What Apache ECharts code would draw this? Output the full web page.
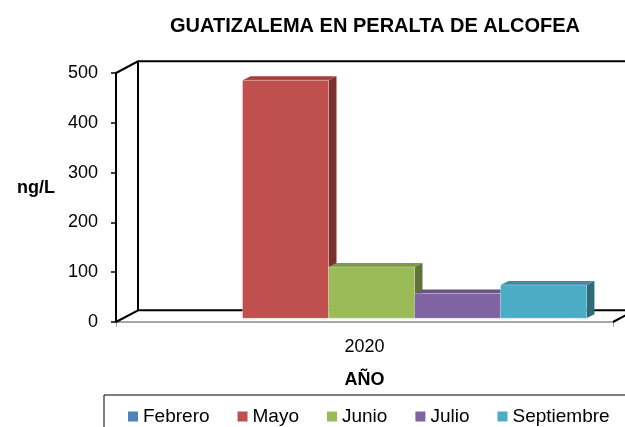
<!DOCTYPE html>
<html>
<head>
<meta charset="utf-8">
<script src="https://cdn.jsdelivr.net/npm/echarts@6/dist/echarts.min.js"></script>
<style>
  html, body { margin: 0; padding: 0; background: #fff; }
  #main { width: 625px; height: 427px; }
</style>
</head>
<body>
<div id="main"></div>
<script>
// Data
const years = ['2020'];
const months = ['Febrero', 'Mayo', 'Junio', 'Julio', 'Septiembre'];
const febrero = [0];
const mayo = [478];
const junio = [103];
const julio = [50];
const septiembre = [67];
const colors = ['#4F81BD', '#C0504D', '#9BBB59', '#8064A2', '#4BACC6'];

const FONT = '"Liberation Sans", Arial, sans-serif';
let myChart = echarts.init(document.getElementById('main'));

// Darken a hex colour by a factor
function shade(hex, k) {
    let n = parseInt(hex.slice(1), 16);
    let r = Math.round(((n >> 16) & 255) * (1 - k));
    let g = Math.round(((n >> 8) & 255) * (1 - k));
    let b = Math.round((n & 255) * (1 - k));
    return 'rgb(' + r + ',' + g + ',' + b + ')';
}

// Fake 3D box for one month's bar
function barItem(i) {
    return function (params, api) {
        let v = api.value(1);
        if (!v) return null;
        let catW = api.size([1, 0])[0];
        let w = catW * 0.173;
        let c = api.coord([api.value(0), 0]);
        let t = api.coord([api.value(0), v]);
        let x = c[0] - 2.5 * w + i * w + 7;
        let yb = c[1] - 3.7, yt = t[1] - 3.7;
        let dx = 8, dy = -4;
        let col = colors[i];
        return {
            type: 'group',
            children: [
                { type: 'polygon', shape: { points: [[x + w, yt], [x + w + dx, yt + dy], [x + w + dx, yb + dy], [x + w, yb]] },
                  style: { fill: shade(col, 0.38) } },
                { type: 'polygon', shape: { points: [[x, yt], [x + dx, yt + dy], [x + w + dx, yt + dy], [x + w, yt]] },
                  style: { fill: shade(col, 0.18) } },
                { type: 'rect', shape: { x: x, y: yt, width: w, height: yb - yt },
                  style: { fill: col, stroke: 'rgba(255,255,255,0.5)', lineWidth: 0.6 } }
            ]
        };
    };
}

// Back wall and floor edges of the 3D frame
function frameItem(params, api) {
    let cs = params.coordSys;
    let x0 = cs.x, y0 = cs.y, x1 = cs.x + cs.width, y1 = cs.y + cs.height;
    let dx = 22, dy = -11.7;
    let ls = { stroke: '#000', lineWidth: 2, fill: null };
    return {
        type: 'group',
        children: [
            { type: 'polyline', shape: { points: [[x0, y0], [x0 + dx, y0 + dy], [x1 + dx, y0 + dy]] }, style: ls },
            { type: 'polyline', shape: { points: [[x0 + dx, y0 + dy], [x0 + dx, y1 + dy], [x1 + dx, y1 + dy]] }, style: ls },
            { type: 'line', shape: { x1: x0, y1: y1, x2: x0 + dx, y2: y1 + dy }, style: ls },
            { type: 'line', shape: { x1: x1, y1: y1, x2: x1 + dx, y2: y1 + dy }, style: ls }
        ]
    };
}

let monthValues = [febrero, mayo, junio, julio, septiembre];
let mySeries = months.map((name, i) => ({
    name: name,
    type: 'custom',
    z: 3,
    itemStyle: { color: colors[i] },
    renderItem: barItem(i),
    data: years.map((y, j) => [y, monthValues[i][j]])
}));

let option = {
    animation: false,
    title: {
        text: 'GUATIZALEMA EN PERALTA DE ALCOFEA',
        left: 375,
        top: 16,
        padding: 0,
        textAlign: 'center',
        textStyle: { fontFamily: FONT, fontSize: 20, fontWeight: 'bold', color: '#000' }
    },
    legend: {
        data: months,
        left: 104,
        top: 395,
        width: 560,
        orient: 'horizontal',
        icon: 'rect',
        itemWidth: 10,
        itemHeight: 10,
        itemGap: 28,
        padding: [12, 20, 24, 24],
        borderColor: '#000',
        borderWidth: 1,
        textStyle: { fontFamily: FONT, fontSize: 19, color: '#000' }
    },
    grid: {
        left: 116,
        right: 12,
        top: 73,
        bottom: 105,
        containLabel: false,
        outerBoundsMode: 'none'
    },
    xAxis: {
        type: 'category',
        data: years,
        name: 'AÑO',
        nameLocation: 'middle',
        nameGap: 49,
        nameTextStyle: { fontFamily: FONT, fontSize: 18, fontWeight: 'bold', color: '#000' },
        axisLine: { lineStyle: { color: '#A6A6A6', width: 2 } },
        axisTick: { show: true, length: 5, lineStyle: { color: '#A6A6A6' } },
        axisLabel: { margin: 16, fontFamily: FONT, fontSize: 18, color: '#000' },
        splitLine: { show: false }
    },
    yAxis: {
        type: 'value',
        min: 0,
        max: 500,
        interval: 100,
        name: 'ng/L',
        nameLocation: 'middle',
        nameRotate: 0,
        nameGap: 61,
        nameTextStyle: { fontFamily: FONT, fontSize: 18, fontWeight: 'bold', color: '#000', verticalAlign: 'bottom' },
        axisLine: { show: true, lineStyle: { color: '#000', width: 2 } },
        axisTick: { show: true, length: 5, lineStyle: { color: '#000', width: 1.5 } },
        axisLabel: { margin: 18, fontFamily: FONT, fontSize: 18, color: '#000' },
        splitLine: { show: false }
    },
    series: [
        {
            type: 'custom',
            z: 1,
            silent: true,
            renderItem: frameItem,
            data: [[years[0], 0]]
        },
        ...mySeries
    ]
};

option && myChart.setOption(option);
</script>
</body>
</html>
